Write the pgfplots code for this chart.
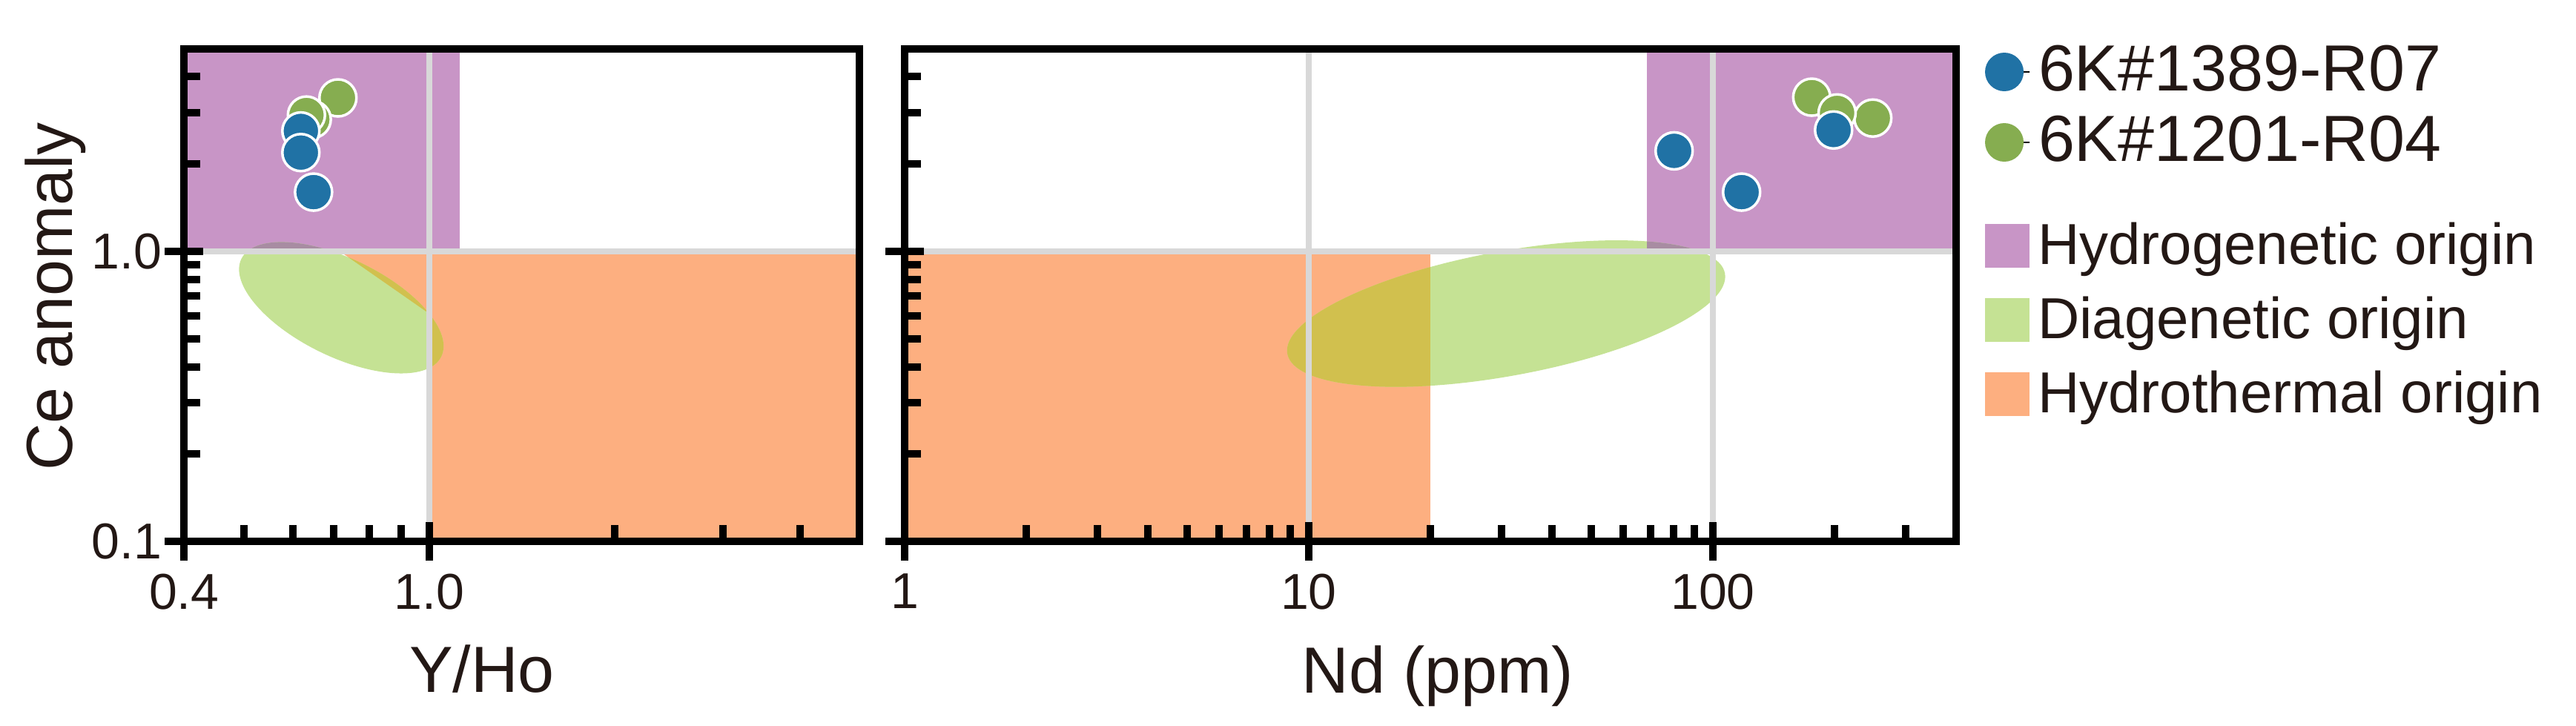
\documentclass[border=0pt]{standalone}
\usepackage{fontspec}
\setmainfont{Liberation Sans}
\usepackage{pgfplots}
\pgfplotsset{compat=1.18}

\definecolor{blueC}{RGB}{32,114,165}
\definecolor{greenC}{RGB}{134,173,80}
\definecolor{purpleC}{RGB}{200,149,198}
\definecolor{orangeC}{RGB}{253,175,128}
\definecolor{ellC}{RGB}{197,226,148}
\definecolor{oliveC}{RGB}{209,192,78}
\definecolor{mauveC}{RGB}{168,140,162}
\definecolor{gridC}{RGB}{216,216,216}
\definecolor{txt}{RGB}{35,24,21}

\pgfplotsset{
  every axis/.append style={
    scale only axis,
    height=132.9pt, ymin=0.1, ymax=5,
    axis on top,
    axis line style={line width=2pt, black},
    tick pos=left, tick align=center,
    major tick length=10.4pt, minor tick length=0pt,
    every tick/.style={black, line width=2pt},
    grid=major, major grid style={line width=1.6pt, gridC},
    ytick={0.1,1},
    extra y ticks={0.2,0.3,0.4,0.5,0.6,0.7,0.8,0.9,2,3,4},
    extra y tick labels={},
    extra y tick style={tick align=inside, major tick length=4.4pt, grid=none},
    extra x tick labels={},
    extra x tick style={tick align=inside, major tick length=4.4pt, grid=none},
    xticklabel style={anchor=north, inner sep=0pt, yshift=-3.4pt, font=\fontsize{13.6}{15}\selectfont, text=txt},
    yticklabel style={anchor=east, inner sep=0pt, xshift=-0.6pt, font=\fontsize{13.6}{15}\selectfont, text=txt},
    label style={font=\fontsize{17.6}{20}\selectfont, text=txt},
    legend cell align=left,
  },
}

\begin{document}
\begin{tikzpicture}
% Y/Ho panel
\begin{loglogaxis}[
  at={(0pt,0pt)}, anchor=south west, width=182.2pt,
  xmin=0.4, xmax=5,
  xtick={0.4,1}, xticklabels={\mbox{0.4},\mbox{1.0}},
  yticklabels={\mbox{0.1},\mbox{1.0}},
  extra x ticks={0.5,0.6,0.7,0.8,0.9,2,3,4},
  xlabel={Y/Ho}, ylabel={Ce anomaly},
  xlabel style={at={(axis description cs:0.441,-0.3055)}, anchor=base},
  ylabel style={at={(axis description cs:-0.166,0.497)}, anchor=base},
  legend style={at={(2.666,0.6479)}, anchor=north west, draw=none, fill=none,
    inner sep=0pt, outer sep=0pt, row sep=5pt,
    font=\fontsize{15.6}{18}\selectfont,
    nodes={inner sep=0pt, text height=11.5pt, text depth=3.5pt, text=txt},
    /tikz/every odd column/.append style={column sep=2.2pt}},
]
\addplot[fill=purpleC, draw=none, forget plot] coordinates {(0.4,1) (1.12,1) (1.12,5) (0.4,5)} -- cycle;
\addplot[fill=orangeC, draw=none, forget plot] coordinates {(1,0.1) (5,0.1) (5,1) (1,1)} -- cycle;
\addplot[fill=orangeC, draw=none, forget plot] coordinates {(0.716,1) (1,1) (1,0.61)} -- cycle;
\fill[ellC, rotate around={-26:(axis cs:0.72,0.639)}] (axis cs:0.72,0.639) ellipse [x radius=30pt, y radius=13.2pt];
\begin{scope}
  \clip[rotate around={-26:(axis cs:0.72,0.639)}] (axis cs:0.72,0.639) ellipse [x radius=30pt, y radius=13.2pt];
  \fill[oliveC] (axis cs:1,0.1) rectangle (axis cs:5,1);
  \fill[oliveC] (axis cs:0.716,1) -- (axis cs:1,1) -- (axis cs:1,0.61) -- cycle;
  \fill[mauveC] (axis cs:0.4,1) rectangle (axis cs:1.12,5);
\end{scope}
\addplot[only marks, mark=*, mark size=5pt, forget plot, mark options={draw=white, line width=0.7pt, fill=greenC}]
  coordinates {(0.711,3.38) (0.646,2.85) (0.632,2.95)};
\addplot[only marks, mark=*, mark size=5pt, forget plot, mark options={draw=white, line width=0.7pt, fill=blueC}]
  coordinates {(0.619,2.60) (0.619,2.19) (0.649,1.60)};
\addlegendimage{legend image code/.code={\path (0pt,0pt) rectangle (11.6pt,0pt); \fill[purpleC] (0pt,-4.6pt) rectangle (11.6pt,6.8pt);}}
\addlegendentry{Hydrogenetic origin}
\addlegendimage{legend image code/.code={\path (0pt,0pt) rectangle (11.6pt,0pt); \fill[ellC] (0pt,-4.6pt) rectangle (11.6pt,6.8pt);}}
\addlegendentry{Diagenetic origin}
\addlegendimage{legend image code/.code={\path (0pt,0pt) rectangle (11.6pt,0pt); \fill[orangeC] (0pt,-4.6pt) rectangle (11.6pt,6.8pt);}}
\addlegendentry{Hydrothermal origin}
\end{loglogaxis}

% Nd panel
\begin{loglogaxis}[
  at={(194.34pt,0pt)}, anchor=south west, width=283.6pt,
  xmin=1, xmax=400,
  xtick={1,10,100}, xticklabels={\mbox{1},\mbox{10},\mbox{100}},
  yticklabels={},
  extra x ticks={2,3,4,5,6,7,8,9,20,30,40,50,60,70,80,90,200,300},
  xlabel={Nd (ppm)},
  xlabel style={at={(axis description cs:0.507,-0.308)}, anchor=base},
  legend style={at={(1.0275,1.0128)}, anchor=north west, draw=none, fill=none,
    inner sep=0pt, outer sep=0pt, row sep=3pt,
    font=\fontsize{17.6}{20}\selectfont,
    nodes={inner sep=0pt, text height=13pt, text depth=3pt, text=txt},
    /tikz/every odd column/.append style={column sep=2.2pt}},
]
\addplot[fill=orangeC, draw=none, forget plot] coordinates {(1,0.1) (20,0.1) (20,1) (1,1)} -- cycle;
\addplot[fill=purpleC, draw=none, forget plot] coordinates {(68.8,1) (400,1) (400,5) (68.8,5)} -- cycle;
\fill[ellC, rotate around={10.4:(axis cs:30.8,0.61)}] (axis cs:30.8,0.61) ellipse [x radius=60pt, y radius=16.8pt];
\begin{scope}
  \clip[rotate around={10.4:(axis cs:30.8,0.61)}] (axis cs:30.8,0.61) ellipse [x radius=60pt, y radius=16.8pt];
  \fill[oliveC] (axis cs:1,0.1) rectangle (axis cs:20,1);
  \fill[mauveC] (axis cs:68.8,1) rectangle (axis cs:400,5);
\end{scope}
\addplot[only marks, mark=*, mark size=5pt, forget plot, mark options={draw=white, line width=0.7pt, fill=greenC}]
  coordinates {(175.7,3.40) (248.8,2.88) (203,3.0)};
\addplot[only marks, mark=*, mark size=5pt, forget plot, mark options={draw=white, line width=0.7pt, fill=blueC}]
  coordinates {(80.2,2.22) (117.8,1.60) (199,2.62)};
\addlegendimage{legend image code/.code={\path (0pt,0pt) rectangle (11.6pt,0pt); \fill[blueC] (4.8pt,0pt) circle (5pt);}}
\addlegendentry{6K\#1389-R07}
\addlegendimage{legend image code/.code={\path (0pt,0pt) rectangle (11.6pt,0pt); \fill[greenC] (4.8pt,0pt) circle (5pt);}}
\addlegendentry{6K\#1201-R04}
\end{loglogaxis}

% page frame matching the reference proportions
\path (-49.66pt,-49.6pt) rectangle (645.14pt,146pt);
\end{tikzpicture}
\end{document}
